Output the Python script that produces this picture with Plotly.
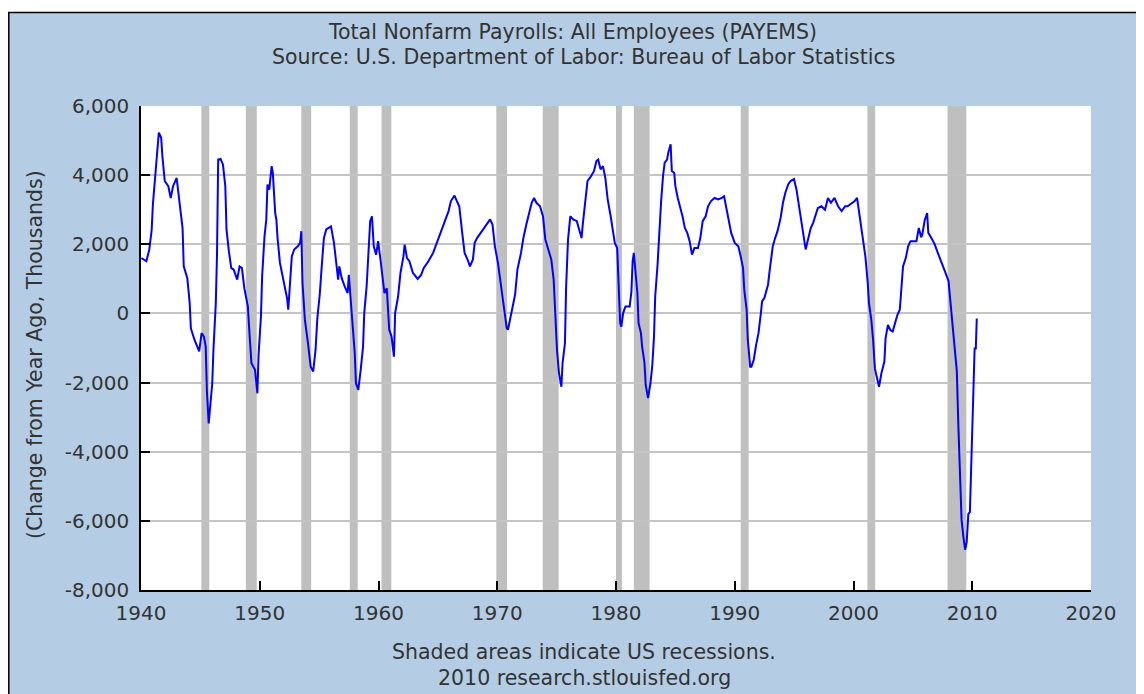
import plotly.graph_objects as go

# year-over-year change in total nonfarm payrolls (thousands)
years = [
    1940.03, 1940.45, 1940.7, 1940.9, 1941.0, 1941.2, 1941.4, 1941.5, 1941.7, 1941.8,
    1942.0, 1942.3, 1942.5, 1942.7, 1943.0, 1943.3, 1943.5, 1943.6, 1943.9, 1944.1,
    1944.2, 1944.5, 1944.7, 1944.9, 1945.1, 1945.3, 1945.45, 1945.55, 1945.7, 1945.8,
    1946.0, 1946.1, 1946.3, 1946.4, 1946.5, 1946.7, 1946.9, 1947.1, 1947.2, 1947.4,
    1947.6, 1947.8, 1948.1, 1948.3, 1948.5, 1948.7, 1949.0, 1949.1, 1949.3, 1949.6,
    1949.8, 1949.9, 1950.1, 1950.2, 1950.4, 1950.55, 1950.65, 1950.8, 1951.0, 1951.1,
    1951.3, 1951.4, 1951.5, 1951.7, 1951.8, 1952.1, 1952.3, 1952.4, 1952.6, 1952.7,
    1952.9, 1953.2, 1953.4, 1953.5, 1953.6, 1953.8, 1954.06, 1954.29, 1954.5, 1954.7,
    1954.85, 1955.05, 1955.2, 1955.4, 1955.6, 1956.0, 1956.25, 1956.45, 1956.6, 1956.7,
    1956.9, 1957.15, 1957.4, 1957.5, 1957.7, 1957.85, 1958.0, 1958.1, 1958.3, 1958.5,
    1958.7, 1958.8, 1959.0, 1959.2, 1959.3, 1959.45, 1959.6, 1959.8, 1959.97, 1960.2,
    1960.4, 1960.5, 1960.7, 1960.9, 1961.1, 1961.3, 1961.4, 1961.65, 1961.85, 1962.1,
    1962.2, 1962.4, 1962.6, 1962.9, 1963.3, 1963.6, 1963.8, 1964.2, 1964.6, 1965.0,
    1965.3, 1965.6, 1965.9, 1966.1, 1966.4, 1966.6, 1966.8, 1967.05, 1967.25, 1967.5,
    1967.7, 1967.95, 1968.1, 1968.3, 1968.6, 1968.9, 1969.2, 1969.4, 1969.6, 1969.8,
    1970.06, 1970.3, 1970.5, 1970.6, 1970.8, 1970.9, 1971.1, 1971.3, 1971.5, 1971.7,
    1972.0, 1972.2, 1972.45, 1972.7, 1972.9, 1973.1, 1973.3, 1973.6, 1973.85, 1974.05,
    1974.3, 1974.55, 1974.75, 1974.9, 1975.03, 1975.2, 1975.4, 1975.5, 1975.7, 1975.8,
    1975.96, 1976.15, 1976.4, 1976.7, 1976.9, 1977.1, 1977.2, 1977.4, 1977.6, 1977.9,
    1978.15, 1978.35, 1978.5, 1978.7, 1978.9, 1979.1, 1979.3, 1979.55, 1979.75, 1979.9,
    1980.1, 1980.2, 1980.35, 1980.45, 1980.6, 1980.8, 1981.15, 1981.3, 1981.4, 1981.5,
    1981.6, 1981.8, 1981.9, 1982.1, 1982.2, 1982.4, 1982.5, 1982.7, 1982.9, 1983.06,
    1983.2, 1983.3, 1983.5, 1983.7, 1983.8, 1983.96, 1984.1, 1984.3, 1984.4, 1984.6,
    1984.7, 1984.9, 1985.0, 1985.2, 1985.4, 1985.6, 1985.8, 1986.0, 1986.2, 1986.4,
    1986.6, 1986.9, 1987.1, 1987.3, 1987.55, 1987.75, 1988.0, 1988.3, 1988.6, 1988.9,
    1989.1, 1989.3, 1989.5, 1989.7, 1990.0, 1990.3, 1990.5, 1990.7, 1990.8, 1991.0,
    1991.1, 1991.3, 1991.4, 1991.6, 1991.8, 1992.0, 1992.2, 1992.3, 1992.5, 1992.8,
    1992.95, 1993.1, 1993.2, 1993.4, 1993.6, 1993.86, 1994.06, 1994.26, 1994.5, 1994.7,
    1994.99, 1995.2, 1995.4, 1995.6, 1995.8, 1995.97, 1996.17, 1996.4, 1996.6, 1996.8,
    1997.0, 1997.3, 1997.6, 1997.85, 1998.1, 1998.4, 1998.7, 1999.0, 1999.3, 1999.5,
    1999.9, 2000.1, 2000.3, 2000.4, 2000.6, 2000.8, 2001.0, 2001.2, 2001.3, 2001.5,
    2001.65, 2001.8, 2002.0, 2002.15, 2002.35, 2002.6, 2002.7, 2002.9, 2003.1, 2003.3,
    2003.5, 2003.7, 2003.9, 2004.03, 2004.17, 2004.4, 2004.6, 2004.8, 2005.1, 2005.3,
    2005.5, 2005.7, 2005.8, 2006.0, 2006.2, 2006.3, 2006.56, 2006.84, 2007.1, 2007.4,
    2007.7, 2008.0, 2008.1, 2008.27, 2008.4, 2008.55, 2008.7, 2008.83, 2008.97, 2009.1,
    2009.25, 2009.4, 2009.53, 2009.67, 2009.8, 2009.9, 2010.04, 2010.2, 2010.3, 2010.38,
]
change = [
    1600, 1510, 1850, 2420, 3150, 4020, 4940, 5230, 5080, 4550,
    3830, 3680, 3340, 3680, 3920, 3100, 2470, 1360, 1020, 300,
    -430, -760, -910, -1100, -570, -670, -960, -2260, -3180, -2740,
    -2020, -1050, 300, 1700, 4450, 4470, 4310, 3680, 2430, 1800,
    1310, 1270, 980, 1360, 1310, 730, 200, -380, -1440, -1630,
    -2310, -1200, -90, 1070, 2230, 2710, 3730, 3580, 4260, 4070,
    2910, 2710, 2180, 1460, 1270, 730, 440, 110, 1070, 1650,
    1850, 1940, 2040, 2380, 880, -180, -860, -1540, -1680, -1050,
    -140, 540, 1270, 2180, 2430, 2520, 2040, 1460, 980, 1360,
    1020, 780, 590, 1120, 110, -380, -1150, -2020, -2210, -1630,
    -960, 10, 780, 2040, 2670, 2810, 1940, 1700, 2090, 1460,
    880, 590, 730, -470, -670, -1250, 10, 490, 1170, 1650,
    1990, 1600, 1510, 1170, 1000, 1120, 1310, 1510, 1750, 2140,
    2430, 2720, 2960, 3250, 3410, 3250, 3100, 2330, 1750, 1560,
    1360, 1560, 2040, 2180, 2330, 2470, 2620, 2720, 2570, 1940,
    1460, 880, 300, 10, -430, -470, -180, 200, 540, 1270,
    1750, 2180, 2570, 2910, 3200, 3340, 3200, 3100, 2810, 2140,
    1850, 1560, 980, 10, -1050, -1730, -2120, -1440, -860, 780,
    2140, 2810, 2720, 2670, 2380, 2180, 2570, 3200, 3830, 3970,
    4120, 4410, 4450, 4170, 4260, 3920, 3300, 2810, 2330, 2040,
    1890, 1000, -280, -380, 10, 200, 200, 640, 1510, 1750,
    1360, 590, -280, -570, -960, -1440, -2070, -2450, -2020, -1490,
    -670, 490, 1410, 2810, 3250, 3970, 4360, 4450, 4650, 4890,
    4120, 4070, 3680, 3340, 3100, 2810, 2470, 2330, 2090, 1700,
    1890, 1890, 2180, 2670, 2810, 3100, 3250, 3340, 3300, 3340,
    3390, 3000, 2620, 2330, 2040, 1940, 1650, 1310, 690, 110,
    -760, -1540, -1540, -1340, -910, -570, 10, 350, 450, 830,
    1270, 1650, 1940, 2180, 2380, 2760, 3200, 3490, 3730, 3830,
    3890, 3580, 3100, 2670, 2280, 1850, 2140, 2470, 2620, 2810,
    3050, 3100, 3000, 3340, 3200, 3340, 3100, 2960, 3100, 3100,
    3200, 3250, 3340, 3100, 2670, 2090, 1650, 880, 300, -180,
    -760, -1590, -1920, -2120, -1730, -1390, -720, -330, -480, -520,
    -280, -40, 110, 690, 1360, 1600, 1940, 2090, 2090, 2090,
    2470, 2200, 2300, 2700, 2900, 2330, 2180, 2000, 1750, 1450,
    1215, 940, 560, 20, -525, -1125, -1670, -3245, -4715, -5965,
    -6455, -6835, -6620, -5800, -5750, -4390, -2705, -1015, -1015, -145,
]

# NBER recessions (start, end) as decimal years
rec_start = [1945.08, 1948.83, 1953.5, 1957.58, 1960.25, 1969.92,
             1973.83, 1980.0, 1981.5, 1990.5, 2001.17, 2007.92]
rec_end = [1945.75, 1949.75, 1954.33, 1958.25, 1961.08, 1970.83,
           1975.17, 1980.5, 1982.83, 1991.17, 2001.83, 2009.5]

x_ticks = [1940, 1950, 1960, 1970, 1980, 1990, 2000, 2010, 2020]
y_ticks = [-8000, -6000, -4000, -2000, 0, 2000, 4000, 6000]

BG = "#b4cde4"
TXT = "#333333"
FONT = "DejaVu Sans"

fig = go.Figure()
fig.add_trace(go.Scatter(x=years, y=change, mode="lines",
                         line=dict(color="#0000ff", width=2),
                         hoverinfo="x+y", showlegend=False))

shapes = []
for s, e in zip(rec_start, rec_end):
    shapes.append(dict(type="rect", xref="x", yref="paper", x0=s, x1=e, y0=0, y1=1,
                       fillcolor="#bfbfbf", line=dict(width=0), layer="below"))

# page sits 8px in from the top-left corner (body margin), so the figure is
# shrunk by that much; positions below are in page pixels
PAD = 8
L, T, W, H = 141, 106, 950, 484
def px(p):
    return (p - L) / W
def py(q):
    return (T + H - q) / H
shapes.append(dict(type="rect", xref="paper", yref="paper", x0=px(0), x1=px(1150),
                   y0=py(12), y1=py(0), fillcolor="white", line=dict(width=0)))
shapes.append(dict(type="path", xref="paper", yref="paper",
                   path=f"M {px(8.8)},{py(700)} L {px(8.8)},{py(12.5)} L {px(1150)},{py(12.5)}",
                   line=dict(color="black", width=1.5)))

annotations = [
    dict(text="Total Nonfarm Payrolls: All Employees (PAYEMS)", x=px(572), y=py(32)),
    dict(text="Source: U.S. Department of Labor: Bureau of Labor Statistics", x=px(583), y=py(57)),
    dict(text="Shaded areas indicate US recessions.", x=px(584), y=py(652)),
    dict(text="2010 research.stlouisfed.org", x=px(584), y=py(678)),
    dict(text="(Change from Year Ago, Thousands)", x=px(35), y=py(355), textangle=-90),
]
for a in annotations:
    a.update(xref="paper", yref="paper", showarrow=False, xanchor="center", yanchor="middle",
             font=dict(family=FONT, size=20.5, color=TXT))

fig.update_layout(
    width=1144 - PAD, height=694 - PAD,
    margin=dict(l=L - PAD, r=1144 - L - W, t=T - PAD, b=694 - T - H),
    paper_bgcolor=BG, plot_bgcolor="white",
    font=dict(family=FONT, size=20, color=TXT),
    shapes=shapes, annotations=annotations,
    xaxis=dict(range=[1940, 2020], tickvals=x_ticks, ticktext=[str(v) for v in x_ticks],
               showgrid=False, zeroline=False, showline=True, linecolor="black", linewidth=1.5,
               ticks="inside", ticklen=9, tickcolor="black", tickwidth=1.5,
               ticklabelstandoff=4),
    yaxis=dict(range=[-8000, 6000], tickvals=y_ticks, ticktext=[f"{v:,}" for v in y_ticks],
               showgrid=True, gridcolor="#c4c4c4", gridwidth=1.5, zeroline=False,
               showline=True, linecolor="black", linewidth=1.5,
               ticks="inside", ticklen=9, tickcolor="black", tickwidth=1.5,
               ticklabelstandoff=6),
)

fig.write_html("out.html")
